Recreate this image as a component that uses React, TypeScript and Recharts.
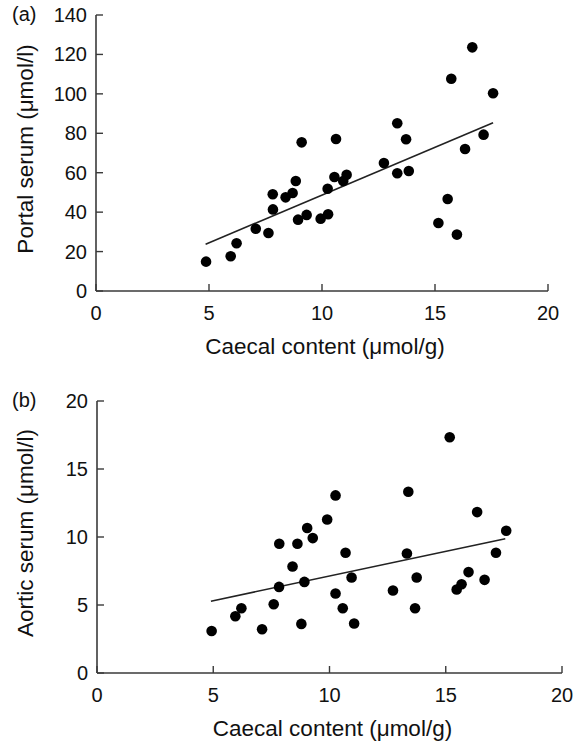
import { ScatterChart, Scatter, XAxis, YAxis, ReferenceLine } from "recharts";

// caecal content (µmol/g) vs portal serum (µmol/l), panel (a)
const caecalA = [
  4.87, 5.96, 6.22, 7.07, 7.63, 7.83, 7.82, 8.39, 8.7, 8.84, 8.94, 9.32, 9.1,
  9.94, 10.27, 10.25, 10.55, 10.62, 10.94, 11.09, 12.74, 13.33, 13.33, 13.72,
  13.84, 15.15, 15.56, 15.72, 15.97, 16.33, 16.65, 17.15, 17.57,
];
const portal = [
  14.9, 17.6, 24.2, 31.6, 29.4, 41.4, 49.1, 47.5, 49.7, 55.8, 36.2, 38.6, 75.4,
  36.7, 38.9, 51.9, 57.8, 77.1, 55.8, 59.0, 64.9, 85.1, 59.7, 77.0, 60.9, 34.5,
  46.7, 107.7, 28.6, 72.0, 123.6, 79.3, 100.3,
];
const fitA = [
  { x: 4.85, y: 23.7 },
  { x: 17.57, y: 85.4 },
];

// caecal content vs aortic serum, panel (b)
const caecalB = [
  4.93, 5.95, 6.21, 7.1, 7.6, 7.83, 7.84, 8.41, 8.62, 8.79, 8.92, 9.04, 9.28,
  9.9, 10.26, 10.26, 10.69, 10.57, 10.95, 11.06, 12.73, 13.33, 13.39, 13.75,
  13.68, 15.17, 15.47, 15.68, 15.98, 16.35, 16.67, 17.16, 17.6,
];
const aortic = [
  3.09, 4.17, 4.76, 3.22, 5.06, 6.33, 9.5, 7.83, 9.5, 3.61, 6.7, 10.66, 9.92,
  11.29, 13.06, 5.85, 8.84, 4.76, 7.02, 3.64, 6.07, 8.79, 13.33, 7.02, 4.76,
  17.33, 6.14, 6.53, 7.42, 11.83, 6.85, 8.84, 10.46,
];
const fitB = [
  { x: 4.9, y: 5.28 },
  { x: 17.56, y: 9.87 },
];

const xTicks = [0, 5, 10, 15, 20];
const portalTicks = [0, 20, 40, 60, 80, 100, 120, 140];
const aorticTicks = [0, 5, 10, 15, 20];

const FONT = '"Liberation Sans", Arial, Helvetica, sans-serif';
const AXIS = "#3a3a3a";
const INK = "#111";

const XTick = (props: any) => {
  const { x, y, payload } = props;
  return (
    <g>
      <line x1={x} x2={x} y1={y} y2={y - 7} stroke={AXIS} strokeWidth={1.4} />
      <text x={x} y={y + 29} textAnchor="middle" fontSize={20} fill={INK} fontFamily={FONT}>
        {payload.value}
      </text>
    </g>
  );
};

const YTick = (props: any) => {
  const { x, y, payload } = props;
  return (
    <g>
      <line x1={x} x2={x + 7} y1={y} y2={y} stroke={AXIS} strokeWidth={1.4} />
      <text x={x - 9} y={y + 7} textAnchor="end" fontSize={20} fill={INK} fontFamily={FONT}>
        {payload.value}
      </text>
    </g>
  );
};

const Dot = (props: any) => <circle cx={props.cx} cy={props.cy} r={5.3} fill="#000" />;

interface PanelProps {
  tag: string;
  xs: number[];
  ys: number[];
  fit: { x: number; y: number }[];
  yTicks: number[];
  yLabel: string;
  height: number;
  margin: { top: number; right: number; bottom: number; left: number };
}

function Panel({ tag, xs, ys, fit, yTicks, yLabel, height, margin }: PanelProps) {
  const data = xs.map((x, i) => ({ x, y: ys[i] }));
  const yMax = yTicks[yTicks.length - 1];

  const xLabel = (p: any) => {
    const vb = p.viewBox;
    return (
      <text
        x={vb.x + vb.width / 2 + 3}
        y={vb.y + 63}
        textAnchor="middle"
        fontSize={22.5}
        fill={INK}
        fontFamily={FONT}
      >
        Caecal content (μmol/g)
      </text>
    );
  };

  const yLab = (p: any) => {
    const vb = p.viewBox;
    const cy = vb.y + vb.height / 2 - 4;
    return (
      <g>
        <text
          transform={`translate(33, ${cy}) rotate(-90)`}
          textAnchor="middle"
          fontSize={22.5}
          fill={INK}
          fontFamily={FONT}
        >
          {yLabel}
        </text>
        <text x={12} y={vb.y + 6} fontSize={20} fill={INK} fontFamily={FONT}>
          {tag}
        </text>
      </g>
    );
  };

  return (
    <ScatterChart width={583} height={height} margin={margin}>
      <XAxis
        type="number"
        dataKey="x"
        domain={[0, 20]}
        ticks={xTicks}
        interval={0}
        height={30}
        tickSize={0}
        tickMargin={0}
        tick={<XTick />}
        axisLine={{ stroke: AXIS, strokeWidth: 1.6 }}
        label={{ content: xLabel }}
      />
      <YAxis
        type="number"
        dataKey="y"
        domain={[0, yMax]}
        ticks={yTicks}
        interval={0}
        width={60}
        tickSize={0}
        tickMargin={0}
        tick={<YTick />}
        axisLine={{ stroke: AXIS, strokeWidth: 1.6 }}
        label={{ content: yLab }}
      />
      <ReferenceLine
        segment={fit}
        stroke="#222"
        strokeWidth={1.6}
        ifOverflow="visible"
      />
      <Scatter data={data} shape={<Dot />} isAnimationActive={false} />
    </ScatterChart>
  );
}

export default function App() {
  return (
    <div
      style={{
        position: "absolute",
        left: 0,
        top: 0,
        width: 583,
        height: 741,
        background: "#fff",
        fontFamily: FONT,
      }}
    >
      <Panel
        tag="(a)"
        xs={caecalA}
        ys={portal}
        fit={fitA}
        yTicks={portalTicks}
        yLabel="Portal serum (μmol/l)"
        height={370}
        margin={{ top: 15, right: 35, bottom: 49, left: 36 }}
      />
      <Panel
        tag="(b)"
        xs={caecalB}
        ys={aortic}
        fit={fitB}
        yTicks={aorticTicks}
        yLabel="Aortic serum (μmol/l)"
        height={371}
        margin={{ top: 31, right: 21, bottom: 38, left: 37 }}
      />
    </div>
  );
}
